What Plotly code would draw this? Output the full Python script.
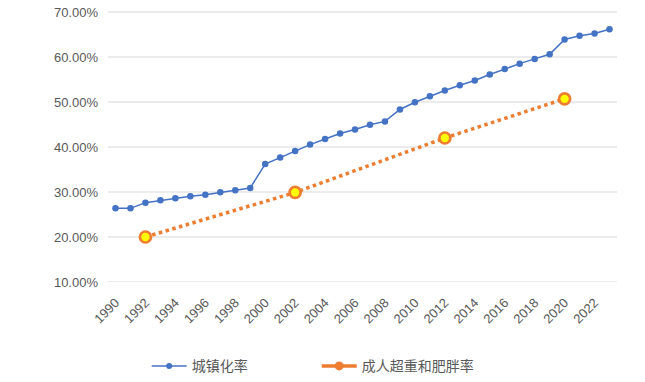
import plotly.graph_objects as go

years = list(range(1990, 2024))
urban_rate = [26.41, 26.37, 27.63, 28.14, 28.62, 29.04, 29.37, 29.92, 30.40, 30.89,
              36.22, 37.66, 39.09, 40.53, 41.76, 42.99, 43.90, 44.94, 45.68, 48.34,
              49.95, 51.27, 52.57, 53.73, 54.77, 56.10, 57.35, 58.52, 59.58, 60.60,
              63.89, 64.72, 65.22, 66.16]
obese_years = [1992, 2002, 2012, 2020]
obese_rate = [20.0, 29.9, 42.0, 50.7]
y_ticks = [10, 20, 30, 40, 50, 60, 70]
x_ticks = list(range(1990, 2023, 2))

BLUE = "#4472C4"
ORANGE = "#ED7D31"
GREY = "#595959"
FONT = "Liberation Sans, Noto Sans CJK SC"
CJK = "Noto Sans CJK SC"

fig = go.Figure()
fig.add_trace(go.Scatter(
    x=years, y=[v / 100 for v in urban_rate], mode="lines+markers",
    line=dict(color=BLUE, width=1.5), marker=dict(color=BLUE, size=6.5),
    showlegend=False, hoverinfo="skip"))
fig.add_trace(go.Scatter(
    x=obese_years, y=[v / 100 for v in obese_rate], mode="lines+markers",
    line=dict(color=ORANGE, width=3.5, dash="dot"),
    marker=dict(color="#FFFF00", size=11, line=dict(color=ORANGE, width=2.7)),
    showlegend=False, hoverinfo="skip"))
# legend entries (Excel-style series formatting)
fig.add_trace(go.Scatter(
    x=[None], y=[None], mode="lines+markers", name="城镇化率",
    line=dict(color=BLUE, width=1.5), marker=dict(color=BLUE, size=6)))
fig.add_trace(go.Scatter(
    x=[None], y=[None], mode="lines+markers", name="成人超重和肥胖率",
    line=dict(color=ORANGE, width=3.5), marker=dict(color=ORANGE, size=9)))

# horizontal gridlines at the y tick values
for t in y_ticks:
    fig.add_shape(type="line", xref="paper", x0=0, x1=1, yref="y", y0=t / 100, y1=t / 100,
                  line=dict(color="#D9D9D9", width=1), layer="below")

fig.update_layout(
    width=645, height=382,
    margin=dict(l=100, r=36, t=3, b=108, autoexpand=False),
    paper_bgcolor="white", plot_bgcolor="white",
    font=dict(family=FONT, color=GREY, size=12),
    legend=dict(orientation="h", x=0.076, xanchor="left", y=-0.311, yanchor="middle",
                font=dict(family=CJK, size=14, color=GREY),
                entrywidth=120, entrywidthmode="pixels",
                itemwidth=35),
    xaxis=dict(range=[1989.5, 2023.5], tickmode="array", tickvals=x_ticks,
               ticktext=[str(t) for t in x_ticks], tickangle=-45,
               showgrid=False, zeroline=False, showline=False, automargin=False,
               ticks="outside", ticklen=7, tickcolor="rgba(0,0,0,0)",
               tickfont=dict(size=13, color=GREY)),
    yaxis=dict(range=[0.1, 0.7022], tickmode="array", tickvals=[t / 100 for t in y_ticks],
               tickformat=".2%", showgrid=False,
               zeroline=False, showline=False, ticks="", ticklen=0, automargin=False,
               ticklabeloverflow="allow", ticklabelstandoff=9,
               tickfont=dict(size=13, color=GREY)),
)
fig.write_html("out.html")
